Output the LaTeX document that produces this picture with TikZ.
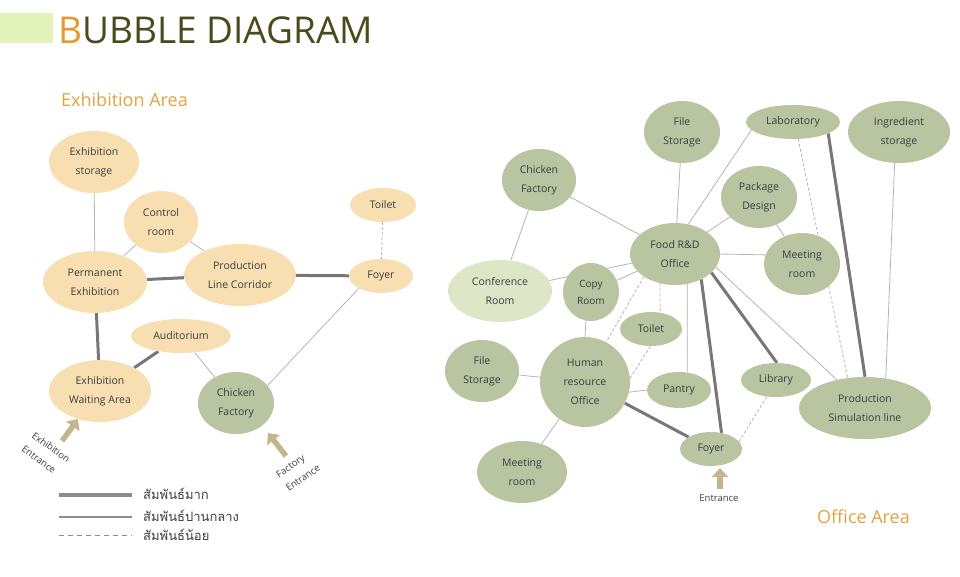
\documentclass[tikz,border=0pt]{standalone}
\usepackage{fontspec}
\setmainfont{Open Sans}
\newfontfamily\thaifont[Script=Thai]{Loma}
\usetikzlibrary{shapes.geometric,arrows.meta,backgrounds}

\definecolor{exhfill}{HTML}{F8DFB2}
\definecolor{offfill}{HTML}{B8C5A0}
\definecolor{conffill}{HTML}{DDE6C7}
\definecolor{arrowtan}{HTML}{C3B68F}
\definecolor{titleolive}{HTML}{4B4A1C}
\definecolor{titleorange}{HTML}{E39A2E}
\definecolor{areaorange}{HTML}{E2A23E}
\definecolor{titlebar}{HTML}{E2F2B8}
\definecolor{nodetext}{HTML}{3C3C3C}
\definecolor{linedark}{HTML}{777777}
\definecolor{linelight}{HTML}{B4B4B4}

\begin{document}
\begin{tikzpicture}[x=1pt, y=-1pt,
    bub/.style={ellipse, inner sep=0pt, align=center, text=nodetext, font=\fontsize{10.5}{19}\selectfont},
    exh/.style={bub, fill=exhfill},
    off/.style={bub, fill=offfill},
    sz/.style 2 args={minimum width=#1pt, minimum height=#2pt},
    strong/.style={draw=linedark, line width=3pt},
    mid/.style={draw=linelight, line width=0.8pt},
    weak/.style={draw=linelight, line width=0.8pt, dash pattern=on 3pt off 2pt},
    entry/.style={draw=arrowtan, line width=5.5pt, -{Triangle[length=9pt, width=16pt]}},
    entrytext/.style={font=\fontsize{9.5}{17}\selectfont, text=nodetext, align=left},
    areatext/.style={font=\fontsize{18}{20}\selectfont, text=areaorange, anchor=base west}
]

    \useasboundingbox (0,0) rectangle (960,576);

    % title
    \fill[titlebar] (0,13) rectangle (53,43);
    \node[anchor=base west, inner sep=0pt, text=titleolive, font=\fontsize{37}{40}\selectfont] (title) at (58,43) {{\color{titleorange}B}UBBLE DIAGRAM};
    \node[areatext, inner sep=0pt] (exharea) at (61,106) {Exhibition Area};
    \node[areatext, inner sep=0pt] (offarea) at (817,523) {Office Area};

    % exhibition area
    \node[exh, sz={90}{62}] (exst) at (94,162) {Exhibition\\storage};
    \node[exh, sz={74}{62}] (ctrl) at (161,222) {Control\\room};
    \node[exh, sz={66}{34}] (etoi) at (383,205) {Toilet};
    \node[exh, sz={104}{62}] (perm) at (95,282) {Permanent\\Exhibition};
    \node[exh, sz={112}{62}] (plc) at (240,275) {Production\\Line Corridor};
    \node[exh, sz={64}{34}] (efoy) at (381,276) {Foyer};
    \node[exh, sz={100}{34}] (aud) at (181,336) {Auditorium};
    \node[exh, sz={102}{62}] (ewa) at (100,391) {Exhibition\\Waiting Area};
    \node[off, sz={76}{62}] (ecf) at (236,403) {Chicken\\Factory};

    % office area
    \node[off, sz={76}{62}] (fst) at (682,132) {File\\Storage};
    \node[off, sz={94}{34}] (lab) at (793,122) {Laboratory};
    \node[off, sz={102}{62}] (ing) at (899,132) {Ingredient\\storage};
    \node[off, sz={74}{62}] (ocf) at (539,180) {Chicken\\Factory};
    \node[off, sz={76}{62}] (pkg) at (759,197) {Package\\Design};
    \node[off, sz={90}{62}] (rd) at (675,254) {Food R\&D\\Office};
    \node[off, sz={76}{62}] (mtg) at (802,264) {Meeting\\room};
    \node[bub, fill=conffill, sz={104}{62}] (conf) at (500,291) {Conference\\Room};
    \node[off, sz={56}{58}, font=\fontsize{10}{17}\selectfont] (copy) at (591,292) {Copy\\Room};
    \node[off, sz={62}{34}] (otoi) at (651,329) {Toilet};
    \node[off, sz={74}{62}] (fsl) at (482,371) {File\\Storage};
    \node[off, sz={90}{90}] (hr) at (585,382) {Human\\resource\\Office};
    \node[off, sz={64}{36}] (pan) at (679,390) {Pantry};
    \node[off, sz={70}{34}] (lib) at (776,380) {Library};
    \node[off, sz={132}{62}] (psl) at (865,408) {Production\\Simulation line};
    \node[off, sz={62}{34}] (ofoy) at (711,449) {Foyer};
    \node[off, sz={90}{62}] (mtl) at (522,472) {Meeting\\room};

    \begin{scope}[on background layer]
        \draw[mid] (exst) -- (perm);
        \draw[mid] (perm) -- (ctrl);
        \draw[mid] (ctrl) -- (plc);
        \draw[strong] (perm) -- (plc);
        \draw[strong] (plc) -- (efoy);
        \draw[weak] (etoi) -- (efoy);
        \draw[mid] (efoy.-151) -- (ecf.29);
        \draw[strong] (perm) -- (ewa);
        \draw[strong] (aud) -- (ewa);
        \draw[mid] (aud) -- (ecf);

        \draw[mid] (ocf) -- (rd);
        \draw[mid] (ocf) -- (conf);
        \draw[mid] (fst) -- (rd);
        \draw[mid] (lab.-169) -- (rd.66);
        \draw[mid] (pkg) -- (rd);
        \draw[mid] (pkg) -- (mtg);
        \draw[mid] (rd.0) -- (mtg.166);
        \draw[mid] (conf) -- (rd);
        \draw[mid] (copy) -- (rd);
        \draw[weak] (lab.-73) -- (psl.120);
        \draw[strong] (lab.-18) -- (psl.90);
        \draw[mid] (ing.-98) -- (psl.55);
        \draw[mid] (rd.-18) -- (psl.135);
        \draw[strong] (rd.-27) -- (lib.87);
        \draw[strong] (rd.-44) -- (ofoy.57);
        \draw[mid] (rd.-68) -- (pan.65);
        \draw[weak] (rd.-117) -- (otoi.61);
        \draw[weak] (rd.-144) -- (hr.62);
        \draw[mid] (copy.-100) -- (hr.90);
        \draw[mid] (fsl) -- (hr);
        \draw[mid] (hr.-13) -- (pan.180);
        \draw[strong] (hr) -- (ofoy);
        \draw[mid] (hr) -- (mtl);
        \draw[weak] (otoi.-92) -- (hr.5);
        \draw[weak] (lib.-119) -- (ofoy.15);
    \end{scope}

    % entrances
    \coordinate (exin) at (62,441);
    \coordinate (exintip) at (78,419);
    \draw[entry] (exin) -- (exintip);
    \node[entrytext, rotate=-36] (exinlabel) at (46,454) {Exhibition\\Entrance};

    \coordinate (fain) at (286,456);
    \coordinate (faintip) at (268,433);
    \draw[entry] (fain) -- (faintip);
    \node[entrytext, rotate=35] (fainlabel) at (298,471) {Factory\\Entrance};

    \coordinate (ofin) at (720,489);
    \coordinate (ofintip) at (720,468);
    \draw[entry] (ofin) -- (ofintip);
    \node[entrytext] (ofinlabel) at (719,498) {Entrance};

    % legend
    \coordinate (lga) at (59,495);
    \coordinate (lgb) at (132,495);
    \coordinate (lgc) at (59,517);
    \coordinate (lgd) at (132,517);
    \coordinate (lge) at (59,535);
    \coordinate (lgf) at (132,535);
    \draw[draw=gray!90, line width=4.5pt] (lga) -- (lgb);
    \draw[draw=gray!90, line width=1.8pt] (lgc) -- (lgd);
    \draw[draw=gray!90, line width=0.8pt, dash pattern=on 5pt off 4pt] (lge) -- (lgf);
    \node[anchor=west, inner sep=0pt, text=nodetext, font=\thaifont\fontsize{13}{15}\selectfont] (lgstrong) at (143,494) {สัมพันธ์มาก};
    \node[anchor=west, inner sep=0pt, text=nodetext, font=\thaifont\fontsize{13}{15}\selectfont] (lgmid) at (143,516) {สัมพันธ์ปานกลาง};
    \node[anchor=west, inner sep=0pt, text=nodetext, font=\thaifont\fontsize{13}{15}\selectfont] (lgweak) at (143,535) {สัมพันธ์น้อย};

\end{tikzpicture}
\end{document}
